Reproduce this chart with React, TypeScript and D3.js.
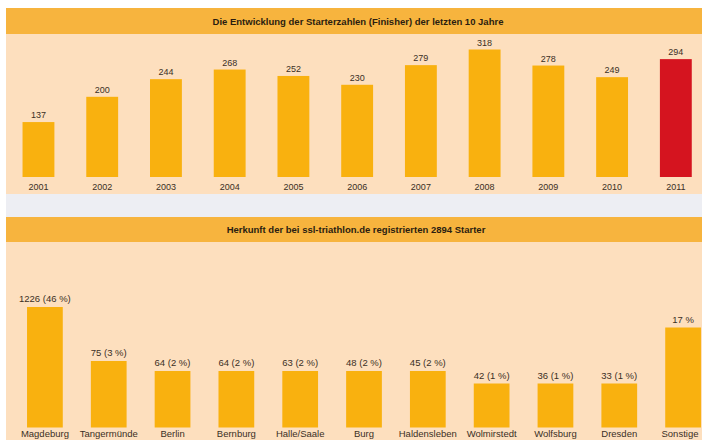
import React from "react";
import * as d3 from "d3";

const years = ["2001","2002","2003","2004","2005","2006","2007","2008","2009","2010","2011"];
const finishers = [137, 200, 244, 268, 252, 230, 279, 318, 278, 249, 294];

const origins = ["Magdeburg","Tangermünde","Berlin","Bernburg","Halle/Saale","Burg","Haldensleben","Wolmirstedt","Wolfsburg","Dresden","Sonstige"];
const originCounts = [1226, 75, 64, 64, 63, 48, 45, 42, 36, 33, 492];
const originLabels = ["1226 (46 %)","75 (3 %)","64 (2 %)","64 (2 %)","63 (2 %)","48 (2 %)","45 (2 %)","42 (1 %)","36 (1 %)","33 (1 %)","17 %"];

const title1 = "Die Entwicklung der Starterzahlen (Finisher) der letzten 10 Jahre";
const title2 = "Herkunft der bei ssl-triathlon.de registrierten 2894 Starter";

const W = 702, H = 440;
const FONT = "'Liberation Sans', Arial, sans-serif";
const ORANGE = "#F9B10F";
const RED = "#D5141F";
const PEACH = "#FDDFBE";
const HEAD = "#F7B43E";
const GREY = "#EDEEF3";
const TXT = "#3b2f25";

export default function App() {
  // top chart
  const x1 = d3.scaleBand<string>().domain(years).range([6.6, 707.7]).paddingInner(0.5).paddingOuter(0.25);
  const y1 = d3.scaleLinear().domain([0, 318]).range([177, 49.5]);

  // bottom chart (pictorial, tiered heights)
  const x2 = d3.scaleBand<string>().domain(origins).range([13, 715]).paddingInner(0.44).paddingOuter(0.22);
  const h2 = d3.scaleThreshold<number, number>().domain([44, 70, 200, 1000]).range([44, 56.5, 66.5, 100, 120.5]);
  const base2 = 427.5;

  return (
    <svg width={W} height={H} style={{ position: "absolute", left: 0, top: 0, background: "#fff" }} fontFamily={FONT}>
      <rect x={0} y={0} width={W} height={H} fill="#fff" />
      {/* panel 1 */}
      <rect x={6} y={34} width={W - 6} height={160} fill={PEACH} />
      <rect x={6} y={8} width={W - 6} height={26} fill={HEAD} />
      <text x={358} y={25} textAnchor="middle" fontSize={9.5} fontWeight="bold" fill="#2b1d10">{title1}</text>
      {years.map((yr, i) => {
        const v = finishers[i];
        const x = x1(yr)!;
        const bw = x1.bandwidth();
        return (
          <g key={yr}>
            <rect x={x} y={y1(v)} width={bw} height={y1(0) - y1(v)} fill={i === years.length - 1 ? RED : ORANGE} />
            <text x={x + bw / 2} y={y1(v) - 4} textAnchor="middle" fontSize={9} fill={TXT}>{v}</text>
            <text x={x + bw / 2} y={190} textAnchor="middle" fontSize={9} fill={TXT}>{yr}</text>
          </g>
        );
      })}
      {/* separator */}
      <rect x={6} y={194} width={W - 6} height={23} fill={GREY} />
      {/* panel 2 */}
      <rect x={6} y={217} width={W - 6} height={25} fill={HEAD} />
      <rect x={6} y={242} width={W - 6} height={H - 242} fill={PEACH} />
      <text x={356} y={233} textAnchor="middle" fontSize={9.5} fontWeight="bold" fill="#2b1d10">{title2}</text>
      {origins.map((o, i) => {
        const v = originCounts[i];
        const x = x2(o)!;
        const bw = x2.bandwidth();
        const h = h2(v);
        return (
          <g key={o}>
            <rect x={x} y={base2 - h} width={bw} height={h} fill={ORANGE} />
            <text x={x + bw / 2} y={base2 - h - 5} textAnchor="middle" fontSize={9.5} fill={TXT}>{originLabels[i]}</text>
            <text x={Math.min(x + bw / 2, W - 22)} y={437} textAnchor="middle" fontSize={9.5} fill={TXT}>{o}</text>
          </g>
        );
      })}
    </svg>
  );
}
